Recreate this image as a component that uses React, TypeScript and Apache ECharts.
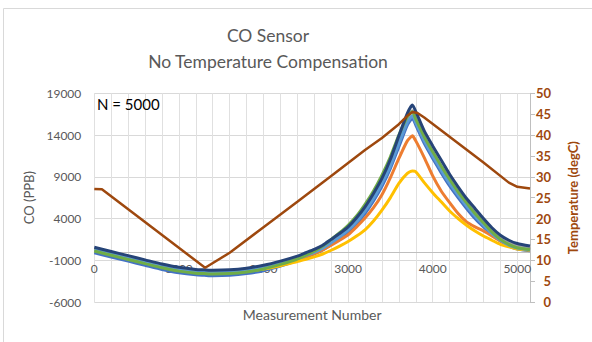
import React, { useEffect, useRef } from "react";
import * as echarts from "echarts";

// Measurement numbers shared by the CO sensor series
const X = [0, 200, 400, 600, 800, 1000, 1200, 1300, 1400, 1600, 1800, 2000, 2200, 2400, 2500, 2600, 2700, 2800, 2900, 3000, 3100, 3200, 3300, 3400, 3500, 3600, 3700, 3760, 3800, 3900, 4000, 4100, 4200, 4300, 4400, 4500, 4600, 4700, 4800, 4900, 5000, 5150];

// CO (PPB) per sensor
const S1 = [-100, -600, -1100, -1600, -2100, -2500, -2750, -2800, -2850, -2800, -2600, -2250, -1700, -1050, -650, -250, 250, 900, 1600, 2400, 3400, 4600, 6100, 7850, 10000, 12600, 15200, 16000, 15200, 13000, 11200, 9500, 7900, 6500, 5200, 4000, 3000, 2100, 1300, 700, 350, 150];
const S2 = [250, -250, -750, -1250, -1750, -2150, -2400, -2450, -2500, -2450, -2250, -1950, -1450, -900, -550, -200, 250, 800, 1400, 2050, 3000, 4050, 5300, 6850, 8900, 11200, 13300, 13900, 13300, 11300, 9100, 7300, 5900, 4600, 3600, 3000, 2500, 1900, 1300, 850, 550, 350];
const S3 = [350, -150, -650, -1150, -1650, -2050, -2300, -2350, -2400, -2350, -2150, -1800, -1300, -700, -300, 100, 600, 1300, 2000, 2800, 3900, 5200, 6800, 8600, 10800, 13500, 16000, 16900, 16000, 13800, 12000, 10300, 8700, 7200, 5900, 4700, 3600, 2500, 1600, 1050, 700, 450];
const S4 = [200, -300, -800, -1300, -1800, -2200, -2450, -2500, -2550, -2500, -2300, -2050, -1650, -1150, -900, -600, -250, 200, 700, 1250, 1900, 2650, 3700, 5000, 6500, 8200, 9400, 9700, 9600, 8300, 7100, 6000, 4900, 4000, 3200, 2500, 1900, 1400, 900, 600, 350, 200];
const S5 = [250, -250, -750, -1250, -1750, -2150, -2400, -2450, -2500, -2450, -2250, -1900, -1400, -800, -450, -50, 450, 1100, 1800, 2600, 3600, 4900, 6400, 8200, 10300, 13000, 15500, 16300, 15500, 13300, 11500, 9800, 8200, 6800, 5500, 4300, 3200, 2200, 1400, 800, 450, 250];
const S6 = [100, -400, -900, -1400, -1900, -2300, -2550, -2600, -2650, -2600, -2400, -2050, -1500, -850, -400, 100, 700, 1500, 2300, 3200, 4300, 5700, 7300, 9200, 11400, 14000, 16200, 16800, 15900, 13800, 12000, 10300, 8700, 7200, 5900, 4600, 3500, 2400, 1500, 900, 500, 300];
const S7 = [550, 50, -450, -950, -1450, -1850, -2100, -2150, -2200, -2150, -1950, -1600, -1100, -500, -100, 300, 800, 1500, 2200, 3000, 4100, 5400, 7000, 8800, 11100, 13900, 16600, 17600, 16800, 14500, 12700, 11000, 9300, 7800, 6400, 5200, 4000, 2900, 2000, 1400, 1000, 700];

// Temperature (degC)
const TEMP_X = [0, 90, 700, 1310, 1600, 2000, 2400, 2800, 3200, 3400, 3600, 3700, 3760, 3820, 3900, 4250, 4600, 4900, 5000, 5150];
const TEMP_Y = [27.1, 27.0, 17.6, 8.2, 11.8, 17.9, 24.0, 30.2, 36.4, 39.3, 42.6, 44.6, 45.5, 45.3, 44.2, 38.8, 33.4, 28.6, 27.6, 27.2];

const CO_SERIES = [S1, S2, S3, S4, S5, S6, S7];
const CO_COLORS = ["#4472C4", "#ED7D31", "#A5A5A5", "#FFC000", "#5B9BD5", "#70AD47", "#264478"];
const TEMP_COLOR = "#9E480E";

const FONT = "Lato, 'Open Sans', sans-serif";

export default function App() {
  const ref = useRef<HTMLDivElement>(null);
  useEffect(() => {
    const chart = echarts.init(ref.current!, null, { renderer: "svg" });
    const pair = (xs: number[], ys: number[]) => xs.map((x, i) => [x, ys[i]]);
    chart.setOption({
      animation: false,
      textStyle: { fontFamily: FONT },
      title: {
        text: "CO Sensor",
        subtext: "No Temperature Compensation",
        left: 263,
        top: 21,
        textAlign: "center",
        itemGap: 8,
        textStyle: { fontSize: 17.5, fontWeight: "normal", color: "#595959", fontFamily: FONT },
        subtextStyle: { fontSize: 17.5, color: "#595959", fontFamily: FONT },
      },
      graphic: [
        {
          type: "rect",
          shape: { x: 3.5, y: 8.5, width: 700, height: 500 },
          style: { fill: "none", stroke: "#D9D9D9", lineWidth: 1 },
          silent: true,
        },
        {
          type: "text",
          x: 97,
          y: 103.5,
          style: { text: "N = 5000", fill: "#000000", fontSize: 15, fontFamily: FONT, verticalAlign: "middle" },
          z: 10,
        },
      ],
      grid: { left: 94.3, right: 62, top: 93.3, bottom: 40, containLabel: false, outerBoundsMode: "none" },
      xAxis: {
        type: "value",
        min: 0,
        max: 5150,
        interval: 200,
        position: "bottom",
        offset: -50,
        name: "Measurement Number",
        nameLocation: "middle",
        nameGap: 55,
        nameTextStyle: { color: "#595959", fontSize: 14, fontFamily: FONT },
        axisLine: { show: true, onZero: false, lineStyle: { color: "#BFBFBF", width: 1 } },
        axisTick: { show: false },
        axisLabel: {
          color: "#595959",
          fontSize: 12,
          margin: 10,
          formatter: (v: number) => (v % 1000 === 0 ? String(v) : ""),
        },
        splitLine: { show: true, lineStyle: { color: "#E0E0E0", width: 1 } },
      },
      yAxis: [
        {
          type: "value",
          min: -6000,
          max: 19000,
          interval: 5000,
          position: "left",
          name: "CO (PPB)",
          nameLocation: "middle",
          nameGap: 55,
          nameRotate: 90,
          nameTextStyle: { color: "#595959", fontSize: 13, fontFamily: FONT },
          axisLine: { show: false },
          axisTick: { show: false },
          axisLabel: { color: "#595959", fontSize: 12, margin: 13, formatter: (v: number) => String(v) },
          splitLine: { show: true, lineStyle: { color: "#D9D9D9", width: 1 } },
        },
        {
          type: "value",
          min: 0,
          max: 50,
          interval: 5,
          position: "right",
          name: "Temperature (degC)",
          nameLocation: "middle",
          nameGap: 36,
          nameRotate: 90,
          nameTextStyle: { color: TEMP_COLOR, fontSize: 13, fontWeight: "bold", fontFamily: FONT },
          axisLine: { show: true, lineStyle: { color: "#BFBFBF", width: 1 } },
          axisTick: { show: true, length: 5, lineStyle: { color: "#BFBFBF" } },
          axisLabel: { color: TEMP_COLOR, fontSize: 13, fontWeight: "bold", align: "right", margin: 21, formatter: (v: number) => String(v) },
          splitLine: { show: false },
        },
      ],
      series: [
        ...CO_SERIES.map((ys, i) => ({
          type: "line",
          name: "CO " + (i + 1),
          data: pair(X, ys),
          yAxisIndex: 0,
          showSymbol: false,
          smooth: 0.2,
          lineStyle: { color: CO_COLORS[i], width: 3 },
          itemStyle: { color: CO_COLORS[i] },
        })),
        {
          type: "line",
          name: "Temperature",
          data: pair(TEMP_X, TEMP_Y),
          yAxisIndex: 1,
          showSymbol: false,
          lineStyle: { color: TEMP_COLOR, width: 2.5 },
          itemStyle: { color: TEMP_COLOR },
        },
      ],
    });
    return () => chart.dispose();
  }, []);
  return <div ref={ref} style={{ position: "absolute", left: 0, top: 0, width: 592, height: 342 }} />;
}
